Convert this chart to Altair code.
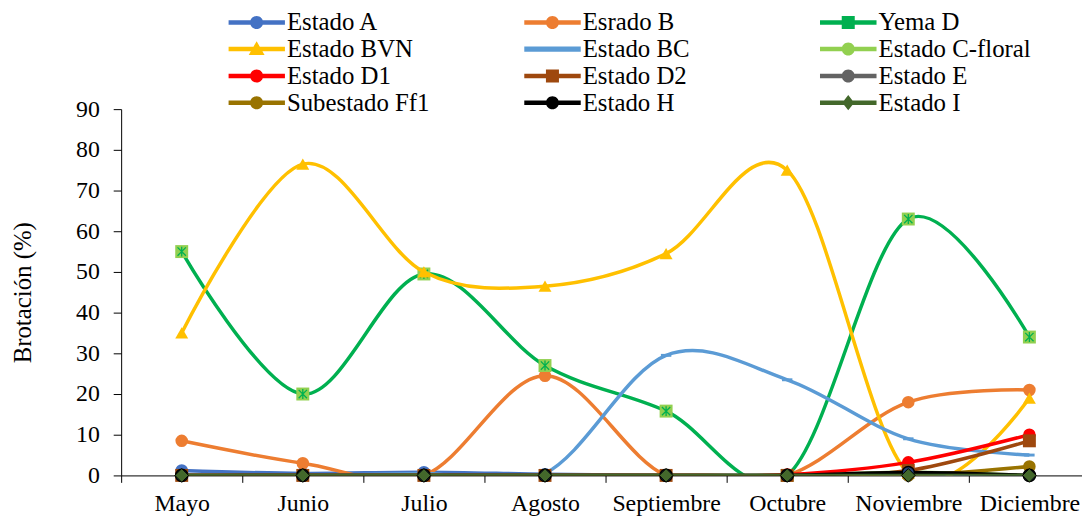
import altair as alt
import pandas as pd

months = ["Mayo", "Junio", "Julio", "Agosto", "Septiembre", "Octubre", "Noviembre", "Diciembre"]

series = ["Estado A", "Esrado B", "Yema D", "Estado BVN", "Estado BC", "Estado C-floral",
          "Estado D1", "Estado D2", "Estado E", "Subestado Ff1", "Estado H", "Estado I"]

estado_a = [1.2, 0.5, 0.8, 0.3, 0.0, 0.0, 0.0, 0.0]
esrado_b = [8.5, 3.0, 0.0, 24.5, 0.0, 0.0, 18.0, 21.0]
yema_d = [55.0, 20.0, 49.5, 27.0, 15.8, 0.0, 63.0, 34.0]
estado_bvn = [35.0, 76.5, 50.0, 46.5, 54.5, 75.0, 0.5, 19.0]
estado_bc = [0.0, 0.0, 0.5, 0.5, 29.5, 23.5, 9.0, 5.0]
estado_cfloral = [0.0, 0.0, 0.0, 0.0, 0.0, 0.0, 0.8, 0.0]
estado_d1 = [0.0, 0.0, 0.0, 0.0, 0.0, 0.2, 3.2, 10.0]
estado_d2 = [0.0, 0.0, 0.0, 0.0, 0.0, 0.0, 1.2, 8.5]
estado_e = [0.0, 0.0, 0.0, 0.0, 0.0, 0.0, 0.0, 0.0]
subestado_ff1 = [0.0, 0.0, 0.0, 0.0, 0.0, 0.0, 0.0, 2.2]
estado_h = [0.0, 0.0, 0.0, 0.0, 0.0, 0.0, 0.7, 0.0]
estado_i = [0.0, 0.0, 0.0, 0.0, 0.0, 0.0, 0.0, 0.0]

values = [estado_a, esrado_b, yema_d, estado_bvn, estado_bc, estado_cfloral,
          estado_d1, estado_d2, estado_e, subestado_ff1, estado_h, estado_i]

line_colors = ["#4472C4", "#ED7D31", "#00B050", "#FFC000", "#5B9BD5", "#92D050",
               "#FF0000", "#9E480E", "#636363", "#997300", "#000000", "#43682B"]

CIRCLE = "circle"
DASH = "M-1,-0.28H1V0.28H-1Z"
XMARK = "M-0.8,-0.8L0.8,0.8M0.8,-0.8L-0.8,0.8M0,-0.95L0,0.95"
# (shape, size, fill, stroke, strokeWidth)
markers = [
    (CIRCLE, 160, "#4472C4", "#4472C4", 0),
    (CIRCLE, 160, "#ED7D31", "#ED7D31", 0),
    ("square", 170, "#92D050", "#92D050", 0),
    ("triangle-up", 170, "#FFC000", "#FFC000", 0),
    (DASH, 110, "#5B9BD5", "#5B9BD5", 0),
    (CIRCLE, 160, "#92D050", "#92D050", 0),
    (CIRCLE, 160, "#FF0000", "#FF0000", 0),
    ("square", 170, "#9E480E", "#9E480E", 0),
    (CIRCLE, 160, "#636363", "#636363", 0),
    (CIRCLE, 160, "#997300", "#997300", 0),
    (CIRCLE, 150, "#264478", "#000000", 1.5),
    ("diamond", 190, "#43682B", "#000000", 1.0),
]

LINE = "M-1,-0.08H1V0.08H-1Z"
def circ(r):
    return f"M{-r},0A{r},{r},0,1,1,{r},0A{r},{r},0,1,1,{-r},0Z"
L_CIRC = LINE + circ(0.23)
L_TRI = LINE + "M0,-0.28L0.28,0.21L-0.28,0.21Z"
L_SQ = LINE + "M-0.23,-0.23H0.23V0.23H-0.23Z"
L_DIA = LINE + "M0,-0.27L0.21,0L0,0.27L-0.21,0Z"
L_DASH = "M-1,-0.09H1V0.09H-1Z"
legend_shapes = [L_CIRC, L_CIRC, L_SQ, L_TRI, L_DASH, L_CIRC, L_CIRC, L_SQ, L_CIRC, L_CIRC, L_CIRC, L_DIA]

legend_colors = ["#4472C4", "#ED7D31", "#00B050", "#FFC000", "#5B9BD5", "#92D050",
                 "#FF0000", "#9E480E", "#636363", "#997300", "#000000", "#43682B"]

rows = []
for s, vals in zip(series, values):
    for m, v in zip(months, vals):
        rows.append({"mes": m, "serie": s, "valor": v})
df = pd.DataFrame(rows)

FONT = "Liberation Serif, Times New Roman, Times, DejaVu Serif, serif"

x_enc = alt.X(
    "mes:N", sort=months, bandPosition=0.5,
    scale=alt.Scale(type="band", domain=months, range=[0, 976], paddingInner=0, paddingOuter=0),
    axis=alt.Axis(title=None, labelAngle=0, tickBand="extent", tickSize=7, labelPadding=9),
)
y_enc = alt.Y(
    "valor:Q", scale=alt.Scale(domain=[0, 90], nice=False),
    axis=alt.Axis(title="Brotación (%)", values=list(range(0, 91, 10)), tickSize=8,
                  labelPadding=14, titlePadding=40),
)

base = alt.Chart(df)
layers = []
for s, col, (shp, sz, fill, stroke, sw) in zip(series, line_colors, markers):
    sub = base.transform_filter(alt.datum.serie == s)
    layers.append(sub.mark_line(color=col, strokeWidth=3.5, interpolate="cardinal", clip=True)
                  .encode(x=x_enc, y=y_enc))
    layers.append(sub.mark_point(shape=shp, size=sz, filled=True, fill=fill, stroke=stroke,
                                 strokeWidth=sw, opacity=1)
                  .encode(x=x_enc, y=y_enc))
    if s == "Yema D":
        layers.append(sub.mark_point(shape=XMARK, size=110, filled=False, stroke="#00B050",
                                     strokeWidth=1.3, opacity=1)
                      .encode(x=x_enc, y=y_enc))

leg = alt.Legend(
    title=None, orient="none", legendX=108, legendY=-100, columns=3, direction="horizontal",
    symbolSize=3249, clipHeight=25, rowPadding=1, columnPadding=85, gridAlign="all",
    labelFont=FONT, labelFontSize=25, labelColor="black", labelOffset=2, labelLimit=400,
    symbolStrokeWidth=0, padding=0,
)
legend_layer = base.mark_point(size=0, filled=True, opacity=1).encode(
    x=x_enc, y=y_enc,
    color=alt.Color("serie:N", scale=alt.Scale(domain=series, range=legend_colors), legend=leg),
    shape=alt.Shape("serie:N", scale=alt.Scale(domain=series, range=legend_shapes), legend=leg),
)
layers.append(legend_layer)

chart = alt.layer(*layers).properties(
    width=968, height=369,
    autosize=alt.AutoSizeParams(type="none"),
    padding={"left": 114, "top": 100, "right": 0, "bottom": 40},
).configure_view(stroke=None).configure_axis(
    labelFont=FONT, labelFontSize=24, labelColor="black",
    titleFont=FONT, titleFontSize=25, titleFontWeight="normal", titleColor="black",
    domainColor="black", tickColor="black", grid=False,
)

chart.save("out.html", embed_options={"renderer": "svg", "actions": False})
